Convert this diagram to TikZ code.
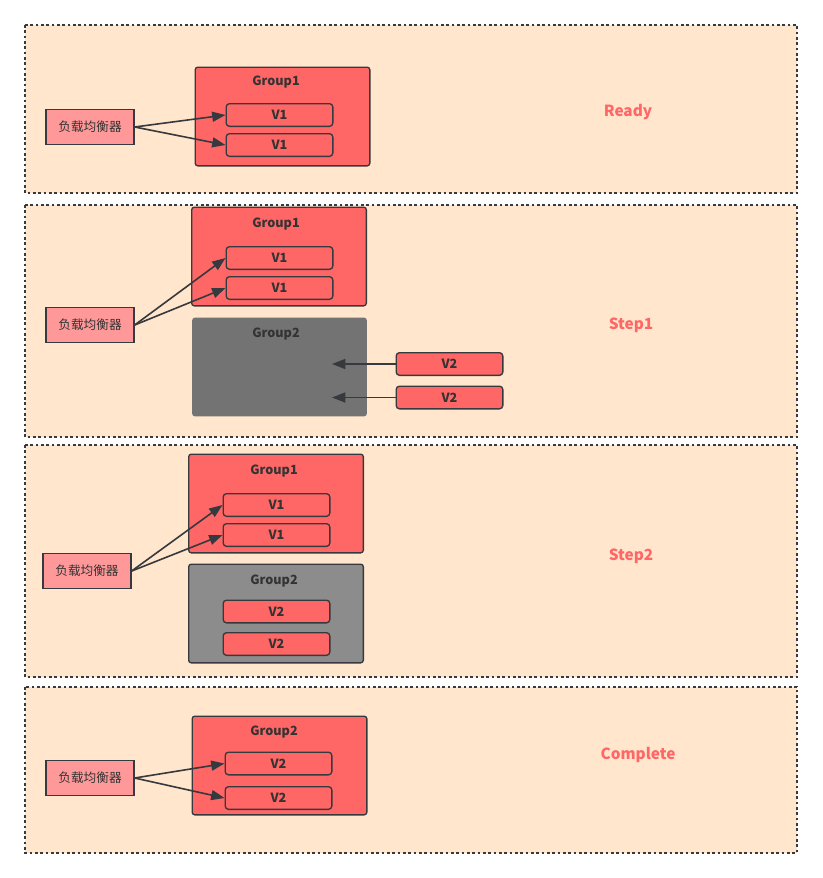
\documentclass[tikz,border=0pt]{standalone}
\usepackage{fontspec}
\setmainfont{Noto Sans CJK SC}
\usetikzlibrary{arrows.meta, positioning}
\definecolor{PanelFill}{HTML}{FFE6CC}
\definecolor{LineDark}{HTML}{36393D}
\definecolor{BoxRed}{HTML}{FF6666}
\definecolor{LBPink}{HTML}{FF9999}
\definecolor{GreyDark}{HTML}{737373}
\definecolor{GreyMid}{HTML}{8C8C8C}
\definecolor{TextDark}{HTML}{333333}

\begin{document}
\begin{tikzpicture}[x=0.75pt, y=-0.75pt, font=\fontsize{9.5}{11}\selectfont\bfseries, text=TextDark,
	panel/.style={draw=LineDark, fill=PanelFill, line width=1pt, dash pattern=on 2pt off 2pt},
	grp/.style={draw=LineDark, fill=BoxRed, line width=1pt, rounded corners=2pt, minimum width=131pt, minimum height=74pt, inner sep=0pt},
	gtitle/.style={inner sep=0pt, text=TextDark},
	vbox/.style={draw=LineDark, fill=BoxRed, line width=1pt, rounded corners=2.5pt, minimum width=80pt, minimum height=17pt, inner sep=0pt},
	lb/.style={draw=LineDark, fill=LBPink, line width=1pt, minimum width=66pt, minimum height=26pt, inner sep=0pt, font=\fontsize{9.5}{11}\selectfont},
	stage/.style={font=\fontsize{11.5}{13}\selectfont\bfseries, text=BoxRed},
	fl/.style={-{Triangle[length=10pt, width=7.5pt]}, line width=1.2pt, LineDark}]
	\useasboundingbox (0,0) rectangle (822,878);
	% ready
	\draw[panel] (25,25) rectangle (797,193);
	\node[stage] (s0) at (628,112) {Ready};
	\node[grp] (g01) at (282.5,116.5) {};
	\node[gtitle] (t01) at (276,82) {Group1};
	\node[vbox] (v01) at (279.5,115) {V1};
	\node[vbox] (v02) at (279.5,145) {V1};
	\node[lb] (lb0) at (90,127) {负载均衡器};
	\draw[fl] (lb0.east)--(v01.west); \draw[fl] (lb0.east)--(v02.west);
	% step1
	\draw[panel] (25,205) rectangle (797,437);
	\node[stage] (s1) at (631,325) {Step1};
	\node[grp] (g11) at (279,256.5) {};
	\node[gtitle] (t11) at (276,224) {Group1};
	\node[vbox] (v11) at (279.5,258) {V1};
	\node[vbox] (v12) at (279.5,288) {V1};
	\node[grp, draw=none, fill=GreyDark] (g12) at (279.5,367) {};
	\node[gtitle] (t12) at (276,334) {Group2};
	\node[vbox] (v13) at (449.5,364) {V2};
	\node[vbox] (v14) at (449.5,397.5) {V2};
	\coordinate (e13) at (332,364); \coordinate (e14) at (332,397.5);
	\node[lb] (lb1) at (90,325) {负载均衡器};
	\draw[fl] (lb1.east)--(v11.west); \draw[fl] (lb1.east)--(v12.west);
	\draw[fl] (v13.west)--(e13); \draw[fl] (v14.west)--(e14);
	% step2
	\draw[panel] (25,445) rectangle (797,677);
	\node[stage] (s2) at (631,556) {Step2};
	\node[grp] (g21) at (276,503.5) {};
	\node[gtitle] (t21) at (274,471) {Group1};
	\node[vbox] (v21) at (276.5,505) {V1};
	\node[vbox] (v22) at (276.5,535) {V1};
	\node[grp, fill=GreyMid] (g22) at (276,613.5) {};
	\node[gtitle] (t22) at (274,581) {Group2};
	\node[vbox] (v23) at (276.5,611.5) {V2};
	\node[vbox] (v24) at (276.5,644) {V2};
	\node[lb] (lb2) at (87,571) {负载均衡器};
	\draw[fl] (lb2.east)--(v21.west); \draw[fl] (lb2.east)--(v22.west);
	% complete
	\draw[panel] (25,687) rectangle (797,853);
	\node[stage] (s3) at (638,755) {Complete};
	\node[grp] (g31) at (279.5,765.5) {};
	\node[gtitle] (t31) at (274,732) {Group2};
	\node[vbox] (v31) at (278.5,763.5) {V2};
	\node[vbox] (v32) at (278.5,798) {V2};
	\node[lb] (lb3) at (90,778) {负载均衡器};
	\draw[fl] (lb3.east)--(v31.west); \draw[fl] (lb3.east)--(v32.west);
\end{tikzpicture}
\end{document}
